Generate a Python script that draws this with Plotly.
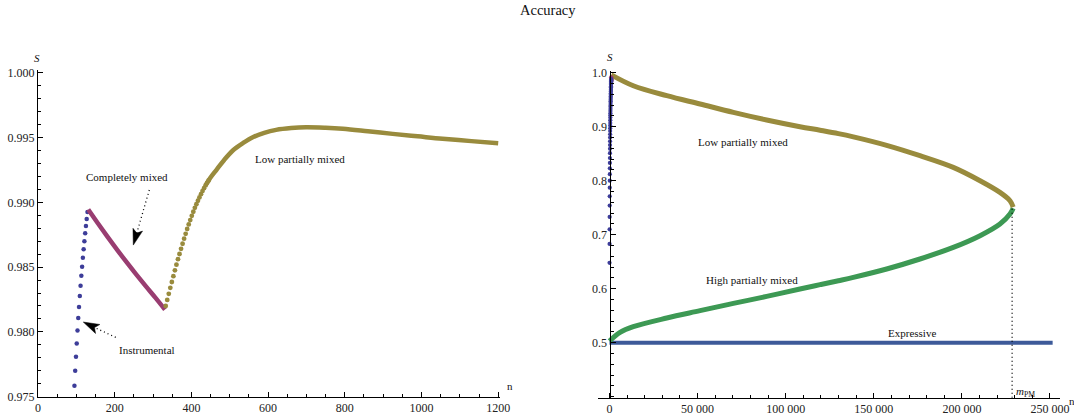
import plotly.graph_objects as go

# ---------------- data (left panel) ----------------
instr_n = [95, 97, 99, 101, 103, 105, 107, 109, 111, 113, 115, 117, 119, 121, 123, 125, 127, 129]
instr_s = [0.97585, 0.97700, 0.97808, 0.97910, 0.98010, 0.98108, 0.98192, 0.98277, 0.98356,
           0.98433, 0.98502, 0.98572, 0.98638, 0.98700, 0.98762, 0.98818, 0.98872, 0.98925]

mixed_n = [131, 156, 181, 206, 231, 256, 281, 306, 331]
mixed_s = [0.98944, 0.98838, 0.98735, 0.98635, 0.98538, 0.98444, 0.98353, 0.98264, 0.98172]

lowpm_dot_n = [333, 337, 341, 345, 349, 353, 357, 361, 365, 369, 373, 377, 381, 385, 389, 393,
               397, 401, 405, 409, 413, 417, 421, 425, 429, 433, 437, 441, 445]
lowpm_dot_s = [0.98200, 0.98247, 0.98294, 0.98340, 0.98385, 0.98430, 0.98475, 0.98519, 0.98561,
               0.98601, 0.98641, 0.98680, 0.98719, 0.98757, 0.98794, 0.98829, 0.98863, 0.98896,
               0.98927, 0.98957, 0.98985, 0.99012, 0.99038, 0.99063, 0.99087, 0.99109, 0.99130,
               0.99150, 0.99169]
lowpm_line_n = [437, 449, 465, 485, 508, 535, 560, 590, 621, 660, 699, 750, 795, 860, 925, 990,
                1055, 1130, 1200]
lowpm_line_s = [0.99130, 0.99187, 0.99249, 0.99325, 0.99400, 0.99458, 0.99502, 0.99536, 0.99559,
                0.99573, 0.99579, 0.99575, 0.99567, 0.99548, 0.99528, 0.99509, 0.99490, 0.99472,
                0.99455]

# ---------------- data (right panel) ----------------
r_instr_n = [20, 40, 60, 80, 100, 120, 140, 160, 180, 200, 220, 240, 260, 280, 300, 320, 340, 360,
             380, 400, 420, 440, 460, 480, 500, 520, 540, 560, 580, 600, 620, 640, 660, 680, 700,
             720, 740, 760, 780, 800, 820, 840, 860, 880, 900, 920, 940, 960]
r_instr_s = [0.648, 0.683, 0.710, 0.733, 0.754, 0.771, 0.787, 0.800, 0.812, 0.823, 0.833, 0.842,
             0.851, 0.859, 0.866, 0.873, 0.880, 0.886, 0.892, 0.897, 0.902, 0.907, 0.912, 0.917,
             0.921, 0.925, 0.929, 0.933, 0.937, 0.940, 0.944, 0.947, 0.950, 0.953, 0.956, 0.959,
             0.962, 0.965, 0.968, 0.970, 0.973, 0.975, 0.978, 0.980, 0.982, 0.984, 0.986, 0.988]

r_mixed_n = [960, 1000, 1040, 1080]
r_mixed_s = [0.991, 0.989, 0.987, 0.985]

r_low_n = [1000, 13500, 32500, 51400, 70300, 89200, 108100, 119500, 129900, 138400, 157300,
           176200, 195100, 210300, 221600, 227300, 229100]
r_low_s = [0.9960, 0.9759, 0.9574, 0.9420, 0.9265, 0.9124, 0.9000, 0.8935, 0.8872, 0.8812,
           0.8655, 0.8463, 0.8247, 0.8000, 0.7784, 0.7630, 0.7510]

r_high_n = [0, 6000, 13500, 32500, 51400, 70300, 89200, 108100, 119500, 129900, 138400, 157300,
            176200, 195100, 210300, 221600, 227300, 229100]
r_high_s = [0.5030, 0.5190, 0.5296, 0.5457, 0.5593, 0.5728, 0.5857, 0.5994, 0.6075, 0.6148,
            0.6210, 0.6365, 0.6550, 0.6765, 0.6982, 0.7198, 0.7383, 0.7490]

r_expr_n = [0, 251500]
r_expr_s = [0.5, 0.5]

m_pm = 228500
m_pm_s = 0.75

left_xticks = [0, 200, 400, 600, 800, 1000, 1200]
left_yticks = [0.975, 0.980, 0.985, 0.990, 0.995, 1.000]
right_xticks = [0, 50000, 100000, 150000, 200000, 250000]
right_xtext = ["0", "50 000", "100 000", "150 000", "200 000", "250 000"]
right_yticks = [0.5, 0.6, 0.7, 0.8, 0.9, 1.0]
right_ytext = ["0.5", "0.6", "0.7", "0.8", "0.9", "1.0"]

# ---------------- style ----------------
C_BLUE = "#3d3d99"
C_MAG = "#993d71"
C_OLIVE = "#998b3d"
C_GREEN = "#3d9954"
C_EXPR = "#3d5a99"
FONT = "Liberation Serif"
W, H = 1074, 414


def px(x):
    return x / W


def py(y):
    return (H - y) / H


fig = go.Figure()

# left panel
fig.add_trace(go.Scatter(x=instr_n, y=instr_s, mode="markers",
                         marker=dict(color=C_BLUE, size=4.5, line=dict(width=0)),
                         xaxis="x", yaxis="y"))
fig.add_trace(go.Scatter(x=mixed_n, y=mixed_s, mode="lines",
                         line=dict(color=C_MAG, width=4.5, shape="spline"),
                         xaxis="x", yaxis="y"))
fig.add_trace(go.Scatter(x=lowpm_line_n, y=lowpm_line_s, mode="lines",
                         line=dict(color=C_OLIVE, width=4.5, shape="spline"),
                         xaxis="x", yaxis="y"))
fig.add_trace(go.Scatter(x=lowpm_dot_n, y=lowpm_dot_s, mode="markers",
                         marker=dict(color=C_OLIVE, size=4.8, line=dict(width=0)),
                         xaxis="x", yaxis="y"))

# right panel
fig.add_trace(go.Scatter(x=r_expr_n, y=r_expr_s, mode="lines",
                         line=dict(color=C_EXPR, width=4),
                         xaxis="x2", yaxis="y2"))
fig.add_trace(go.Scatter(x=r_high_n, y=r_high_s, mode="lines",
                         line=dict(color=C_GREEN, width=5, shape="spline"),
                         xaxis="x2", yaxis="y2"))
fig.add_trace(go.Scatter(x=r_low_n, y=r_low_s, mode="lines",
                         line=dict(color=C_OLIVE, width=5, shape="spline"),
                         xaxis="x2", yaxis="y2"))
fig.add_trace(go.Scatter(x=r_mixed_n, y=r_mixed_s, mode="markers",
                         marker=dict(color=C_MAG, size=4.5, line=dict(width=0)),
                         xaxis="x2", yaxis="y2"))
fig.add_trace(go.Scatter(x=r_instr_n, y=r_instr_s, mode="markers",
                         marker=dict(color=C_BLUE, size=4.2, line=dict(width=0)),
                         xaxis="x2", yaxis="y2"))

# geometry (reference page pixels)
L_X0, L_SCALE = 38, 0.3835
L_XR = [0, 1205]
L_YR = [0.975, 1.0002]
L_YPX0, L_YSCALE = 396.7, 12960
R_X0, R_SCALE = 609.5, 0.001762
R_XR = [-6800, 255800]
R_YR = [0.398, 1.003]
R_YPX05, R_YSCALE = 342.7, 540

lx_dom = [px(L_X0 + L_XR[0] * L_SCALE), px(L_X0 + L_XR[1] * L_SCALE)]
ly_dom = [py(L_YPX0), py(L_YPX0 - (L_YR[1] - L_YR[0]) * L_YSCALE)]
rx_dom = [px(R_X0 + R_XR[0] * R_SCALE), px(R_X0 + R_XR[1] * R_SCALE)]
ry_dom = [py(R_YPX05 + (0.5 - R_YR[0]) * R_YSCALE), py(R_YPX05 - (R_YR[1] - 0.5) * R_YSCALE)]

tickfont = dict(family=FONT, size=12, color="#222222")
common = dict(showgrid=False, zeroline=False, showline=True, linecolor="black", linewidth=1,
              ticks="inside", ticklen=5, tickwidth=1, tickcolor="black", tickfont=tickfont,
              automargin=False)

fig.update_layout(
    width=W, height=H, autosize=False,
    margin=dict(l=0, r=0, t=0, b=0, pad=0, autoexpand=False),
    paper_bgcolor="white", plot_bgcolor="white",
    showlegend=False,
    xaxis=dict(domain=lx_dom, range=L_XR, anchor="y",
               tickmode="array", tickvals=left_xticks,
               minor=dict(dtick=50, tick0=0, ticklen=3, ticks="inside", tickcolor="black"),
               **common),
    yaxis=dict(domain=ly_dom, range=L_YR, anchor="x",
               tickmode="array", tickvals=left_yticks, tickformat=".3f",
               minor=dict(dtick=0.001, tick0=0.975, ticklen=3, ticks="inside", tickcolor="black"),
               **common),
    xaxis2=dict(domain=rx_dom, range=R_XR, anchor="y2",
                tickmode="array", tickvals=right_xticks, ticktext=right_xtext,
                minor=dict(dtick=10000, tick0=0, ticklen=3, ticks="inside", tickcolor="black"),
                **common),
    yaxis2=dict(domain=ry_dom, range=R_YR, anchor="free", position=px(R_X0),
                tickmode="array", tickvals=right_yticks, ticktext=right_ytext,
                minor=dict(dtick=0.02, tick0=0.4, ticklen=3, ticks="inside", tickcolor="black"),
                **common),
)

lab = dict(family=FONT, size=11, color="#111111")
small = dict(family=FONT, size=11, color="#111111")
ann = []
ann.append(dict(text="Accuracy", x=px(548), y=py(10), xref="paper", yref="paper",
                showarrow=False, font=dict(family=FONT, size=14.5, color="#111111"),
                xanchor="center", yanchor="middle"))
ann.append(dict(text="<i>S</i>", x=px(37), y=py(58), xref="paper", yref="paper", showarrow=False,
                font=small, xanchor="center", yanchor="middle"))
ann.append(dict(text="<i>S</i>", x=px(610), y=py(57), xref="paper", yref="paper", showarrow=False,
                font=small, xanchor="center", yanchor="middle"))
ann.append(dict(text="n", x=px(510), y=py(386), xref="paper", yref="paper", showarrow=False,
                font=small, xanchor="center", yanchor="middle"))
ann.append(dict(text="n", x=px(1067), y=py(401), xref="paper", yref="paper", showarrow=False,
                font=small, xanchor="left", yanchor="middle"))
ann.append(dict(text="Completely mixed", x=232, y=0.99192, xref="x", yref="y", showarrow=False,
                font=lab, xanchor="center", yanchor="middle"))
ann.append(dict(text="Low partially mixed", x=682, y=0.99331, xref="x", yref="y", showarrow=False,
                font=lab, xanchor="center", yanchor="middle"))
ann.append(dict(text="Instrumental", x=284, y=0.97862, xref="x", yref="y", showarrow=False,
                font=lab, xanchor="center", yanchor="middle"))
ann.append(dict(text="Low partially mixed", x=76000, y=0.8722, xref="x2", yref="y2", showarrow=False,
                font=lab, xanchor="center", yanchor="middle"))
ann.append(dict(text="High partially mixed", x=80800, y=0.6167, xref="x2", yref="y2", showarrow=False,
                font=lab, xanchor="center", yanchor="middle"))
ann.append(dict(text="Expressive", x=171600, y=0.5185, xref="x2", yref="y2", showarrow=False,
                font=lab, xanchor="center", yanchor="middle"))
ann.append(dict(text="<i>m</i><sub>PM</sub>", x=229800, y=0.4093, xref="x2", yref="y2", showarrow=False,
                font=lab, xanchor="left", yanchor="middle"))
fig.update_layout(annotations=ann)

# dotted leader lines
dot = dict(color="black", width=1.3, dash="1px,3px")
fig.add_shape(type="line", xref="x", yref="y", x0=290.2, y0=0.99095, x1=257.6, y1=0.98763, line=dot)
fig.add_shape(type="line", xref="x", yref="y", x0=202.6, y0=0.97958, x1=147.5, y1=0.98034, line=dot)
fig.add_shape(type="line", xref="x2", yref="y2", x0=m_pm, y0=R_YR[0], x1=m_pm, y1=m_pm_s, line=dot)

# arrowheads (pixel-sized paths anchored at the arrow tips)
fig.add_shape(type="path", xref="x", yref="y", xsizemode="pixel", ysizemode="pixel",
              xanchor=248.5, yanchor=0.98670,
              path="M0,0 L-0.34,16.76 L3.49,12.0 L9.26,13.96 Z",
              fillcolor="black", line=dict(color="black", width=0.5))
fig.add_shape(type="path", xref="x", yref="y", xsizemode="pixel", ysizemode="pixel",
              xanchor=118.1, yanchor=0.98076,
              path="M0,0 L16.59,-2.43 L11.26,-5.43 L12.25,-11.45 Z",
              fillcolor="black", line=dict(color="black", width=0.5))

fig.write_html("out.html", config={"displayModeBar": False},
               post_script="document.body.style.margin='0';"
                           "document.body.style.padding='0';"
                           "document.documentElement.style.overflow='hidden';")
